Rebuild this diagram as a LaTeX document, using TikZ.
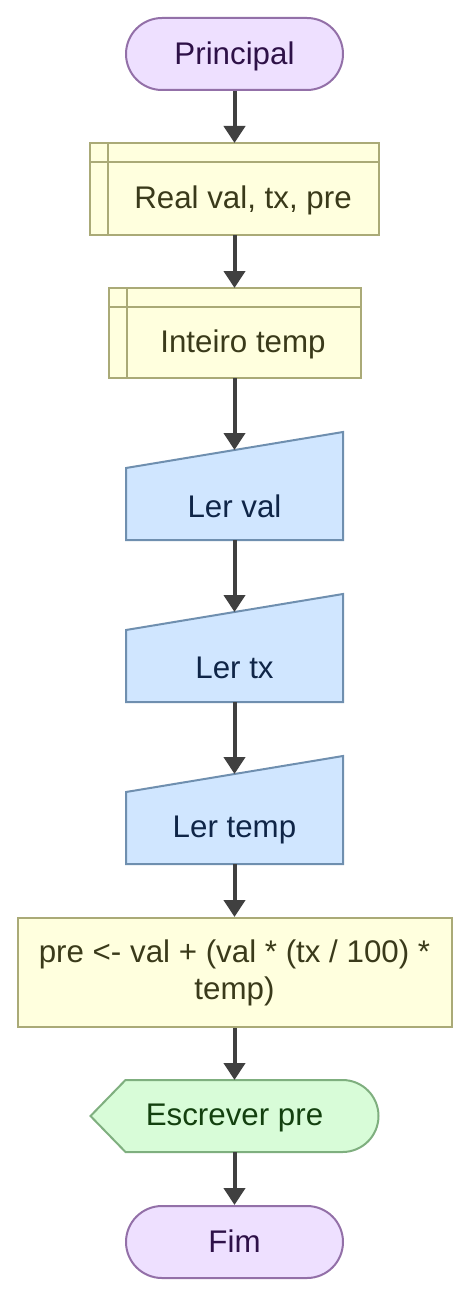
\documentclass[tikz,border=0pt]{standalone}
\usepackage{fontspec}
\setmainfont{Liberation Sans}
\usetikzlibrary{arrows.meta,calc}
\definecolor{termfill}{HTML}{EEE0FF}
\definecolor{termline}{HTML}{9370A8}
\definecolor{termtext}{HTML}{2E1148}
\definecolor{yelfill}{HTML}{FFFFDE}
\definecolor{yelline}{HTML}{AAAA77}
\definecolor{yeltext}{HTML}{3A3A1A}
\definecolor{bluefill}{HTML}{D0E6FF}
\definecolor{blueline}{HTML}{6F8FAF}
\definecolor{bluetext}{HTML}{0F2547}
\definecolor{grnfill}{HTML}{D8FCD8}
\definecolor{grnline}{HTML}{7FAF7F}
\definecolor{grntext}{HTML}{13400F}
\definecolor{arrowgray}{HTML}{404040}
\tikzset{
  terminal/.style={draw=termline, fill=termfill, text=termtext, line width=2pt,
    rounded corners=36pt, minimum width=217pt, minimum height=72pt, text depth=2pt},
  storebox/.style={draw=yelline, fill=yelfill, line width=2pt},
  storeline/.style={draw=yelline, line width=2pt},
  procbox/.style={draw=yelline, fill=yelfill, text=yeltext, line width=2pt, align=center},
  inbox/.style={draw=blueline, fill=bluefill, line width=2pt},
  outbox/.style={draw=grnline, fill=grnfill, line width=2pt},
  frame/.style={inner sep=0pt, outer sep=0pt},
  label text/.style={yshift=-2pt},
  flow/.style={-{Triangle[width=21pt,length=17pt]}, line width=4pt, draw=arrowgray},
}
\begin{document}
\begin{tikzpicture}[x=1pt,y=-1pt, every node/.style={font=\fontsize{31.3}{37}\selectfont}]
\useasboundingbox (0,0) rectangle (469,1297);
\node[terminal] (inicio) at (234.5,54) {Principal};
% declaracoes
\node[storebox, frame, minimum width=289pt, minimum height=92pt] (real) at (234.5,189) {};
\draw[storeline] ($(real.north west)+(18,0)$) -- ($(real.south west)+(18,0)$);
\draw[storeline] ($(real.north west)+(0,19)$) -- ($(real.north east)+(0,19)$);
\node[label text, text=yeltext] (realtx) at (243,198.5) {Real val, tx, pre};
\node[storebox, frame, minimum width=252pt, minimum height=90pt] (inteiro) at (234.5,333) {};
\draw[storeline] ($(inteiro.north west)+(18,0)$) -- ($(inteiro.south west)+(18,0)$);
\draw[storeline] ($(inteiro.north west)+(0,19)$) -- ($(inteiro.north east)+(0,19)$);
\node[label text, text=yeltext] (inteirotx) at (243,342.5) {Inteiro temp};
% leituras
\node[frame, minimum width=217pt, minimum height=108pt] (lval) at (234.5,486) {};
\draw[inbox] (lval.south west) -- ($(lval.north west)+(0,36)$) -- (lval.north east) -- (lval.south east) -- cycle;
\node[label text, text=bluetext] (lvaltx) at (234.5,504) {Ler val};
\node[frame, minimum width=217pt, minimum height=108pt] (ltx) at (234.5,648) {};
\draw[inbox] (ltx.south west) -- ($(ltx.north west)+(0,36)$) -- (ltx.north east) -- (ltx.south east) -- cycle;
\node[label text, text=bluetext] (ltxtx) at (234.5,666) {Ler tx};
\node[frame, minimum width=217pt, minimum height=108pt] (ltemp) at (234.5,810) {};
\draw[inbox] (ltemp.south west) -- ($(ltemp.north west)+(0,36)$) -- (ltemp.north east) -- (ltemp.south east) -- cycle;
\node[label text, text=bluetext] (ltemptx) at (234.5,828) {Ler temp};
% calculo
\node[procbox, minimum width=434pt, minimum height=109pt] (calc) at (234.5,972.5) {pre <- val + (val * (tx / 100) *\\temp)};
% saida
\node[frame, minimum width=288pt, minimum height=72pt] (escrever) at (234.5,1116) {};
\draw[outbox] (escrever.west) -- ($(escrever.north west)+(35,0)$) -- ($(escrever.north east)+(-36,0)$)
  arc[start angle=-90, end angle=90, radius=36] -- ($(escrever.south west)+(35,0)$) -- cycle;
\node[label text, text=grntext] (escrevertx) at (escrever.center) {Escrever pre};
\node[terminal] (fim) at (234.5,1242) {Fim};
\draw[flow] (inicio.south) -- (real.north);
\draw[flow] (real.south) -- (inteiro.north);
\draw[flow] (inteiro.south) -- ($(lval.north)+(0,18)$);
\draw[flow] (lval.south) -- ($(ltx.north)+(0,18)$);
\draw[flow] (ltx.south) -- ($(ltemp.north)+(0,18)$);
\draw[flow] (ltemp.south) -- (calc.north);
\draw[flow] (calc.south) -- (escrever.north);
\draw[flow] (escrever.south) -- (fim.north);
\end{tikzpicture}
\end{document}
